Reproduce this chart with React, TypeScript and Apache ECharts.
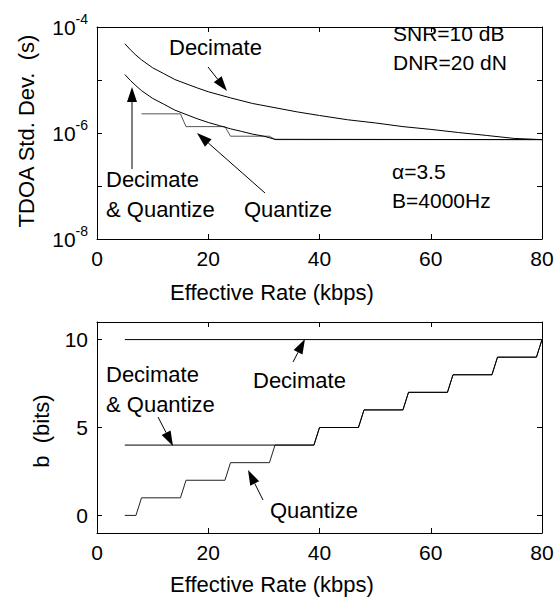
import React, { useEffect, useRef } from 'react';
import * as echarts from 'echarts';

// ---------- data ----------
const rateTicks = [0, 20, 40, 60, 80];

// Top panel: TDOA std. dev. (s) vs effective rate (kbps)
const decimateRate = [5, 6, 7, 8, 10, 12, 14, 16, 18, 20, 24, 28, 32, 36, 40, 45, 50, 55, 60, 65, 70, 75, 80];
const decimateStd = [4.84e-5, 3.72e-5, 2.95e-5, 2.4e-5, 1.7e-5, 1.32e-5, 1.02e-5, 8.5e-6, 7.1e-6, 6.0e-6, 4.6e-6, 3.6e-6, 3.0e-6, 2.5e-6, 2.14e-6, 1.78e-6, 1.55e-6, 1.32e-6, 1.17e-6, 1.02e-6, 9.0e-7, 7.9e-7, 7.5e-7];

const dqRate = [5, 6, 7, 8, 10, 12, 14, 16, 18, 20, 22, 24, 26, 28, 30, 32, 80];
const dqStd = [1.27e-5, 9.8e-6, 7.8e-6, 6.3e-6, 4.5e-6, 3.5e-6, 2.7e-6, 2.24e-6, 1.86e-6, 1.58e-6, 1.38e-6, 1.2e-6, 1.07e-6, 9.5e-7, 8.7e-7, 7.6e-7, 7.5e-7];

const quantRate = [8, 15, 16, 23, 24, 31, 32, 80];
const quantStd = [2.3e-6, 2.3e-6, 1.32e-6, 1.32e-6, 8.7e-7, 8.7e-7, 7.5e-7, 7.5e-7];

// Bottom panel: b (bits) vs effective rate (kbps)
const bitsDecRate = [5, 80];
const bitsDec = [10, 10];

const bitsDqRate = [5, 39, 40, 47, 48, 55, 56, 63, 64, 71, 72, 79, 80];
const bitsDq = [4, 4, 5, 5, 6, 6, 7, 7, 8, 8, 9, 9, 10];

const bitsQuantRate = [5, 7, 8, 15, 16, 23, 24, 31, 32, 39, 40, 47, 48, 55, 56, 63, 64, 71, 72, 79, 80];
const bitsQuant = [0, 0, 1, 1, 2, 2, 3, 3, 4, 4, 5, 5, 6, 6, 7, 7, 8, 8, 9, 9, 10];

const bitsTicks = [0, 5, 10];

// ---------- styling ----------
const FONT = "'Liberation Sans', Arial, Helvetica, sans-serif";
const FS = 21;
const FS_NOTE = 22;

const zip = (xs: number[], ys: number[]) => xs.map((x, i) => [x, ys[i]]);

function arrow(x1: number, y1: number, x2: number, y2: number) {
  const dx = x2 - x1;
  const dy = y2 - y1;
  const len = Math.sqrt(dx * dx + dy * dy);
  const ux = dx / len;
  const uy = dy / len;
  const hl = 15;
  const hw = 5;
  const bx = x2 - ux * hl;
  const by = y2 - uy * hl;
  return [
    {
      type: 'line',
      shape: { x1, y1, x2: bx, y2: by },
      style: { stroke: '#000', lineWidth: 1 },
      silent: true,
    },
    {
      type: 'polygon',
      shape: {
        points: [
          [x2, y2],
          [bx - uy * hw, by + ux * hw],
          [bx + uy * hw, by - ux * hw],
        ],
      },
      style: { fill: '#000' },
      silent: true,
    },
  ];
}

function label(text: string, x: number, y: number, extra: any = {}) {
  return {
    type: 'text',
    x,
    y,
    silent: true,
    style: {
      text,
      fill: '#000',
      fontSize: FS_NOTE,
      fontFamily: FONT,
      verticalAlign: 'middle',
      align: 'left',
      ...extra,
    },
  };
}

const baseAxisLine = { show: true, onZero: false, lineStyle: { color: '#000', width: 1 } };
const baseTick = { show: true, inside: true, length: 5, lineStyle: { color: '#000', width: 1 } };
const tickLabel = { color: '#000', fontSize: FS, fontFamily: FONT, margin: 9 };

function xAxes(gridIndex: number) {
  return [
    {
      gridIndex,
      type: 'value',
      min: rateTicks[0],
      max: rateTicks[rateTicks.length - 1],
      interval: 20,
      position: 'bottom',
      axisLine: baseAxisLine,
      axisTick: baseTick,
      axisLabel: tickLabel,
      splitLine: { show: false },
    },
    {
      gridIndex,
      type: 'value',
      min: rateTicks[0],
      max: rateTicks[rateTicks.length - 1],
      interval: 20,
      position: 'top',
      axisLine: baseAxisLine,
      axisTick: baseTick,
      axisLabel: { show: false },
      splitLine: { show: false },
    },
  ];
}

export default function App() {
  const ref = useRef<HTMLDivElement>(null);

  useEffect(() => {
    if (!ref.current) return;
    const chart = echarts.init(ref.current, undefined, { renderer: 'svg' });

    const logLabel = {
      ...tickLabel,
      formatter: (v: number) => {
        const e = Math.round(Math.log10(v));
        return e % 2 === 0 ? `{b|10}{s|${e}}` : '';
      },
      rich: {
        b: { fontSize: FS, fontFamily: FONT, color: '#000' },
        s: { fontSize: 14, fontFamily: FONT, color: '#000', padding: [0, 0, 17, 0] },
      },
    };

    const option: any = {
      animation: false,
      backgroundColor: '#fff',
      grid: [
        { left: 97, top: 27, width: 445, height: 212, containLabel: false },
        { left: 97, top: 322, width: 445, height: 211, containLabel: false },
      ],
      xAxis: [...xAxes(0), ...xAxes(1)],
      yAxis: [
        {
          gridIndex: 0,
          type: 'log',
          logBase: 10,
          min: 1e-8,
          max: 1e-4,
          position: 'left',
          axisLine: baseAxisLine,
          axisTick: baseTick,
          axisLabel: logLabel,
          splitLine: { show: false },
          minorTick: { show: false },
        },
        {
          gridIndex: 0,
          type: 'log',
          logBase: 10,
          min: 1e-8,
          max: 1e-4,
          position: 'right',
          axisLine: baseAxisLine,
          axisTick: baseTick,
          axisLabel: { show: false },
          splitLine: { show: false },
        },
        {
          gridIndex: 1,
          type: 'value',
          min: -1,
          max: 11,
          position: 'left',
          axisLine: baseAxisLine,
          axisTick: { ...baseTick, customValues: bitsTicks },
          axisLabel: { ...tickLabel, customValues: bitsTicks },
          splitLine: { show: false },
        },
        {
          gridIndex: 1,
          type: 'value',
          min: -1,
          max: 11,
          position: 'right',
          axisLine: baseAxisLine,
          axisTick: { ...baseTick, customValues: bitsTicks },
          axisLabel: { show: false, customValues: bitsTicks },
          splitLine: { show: false },
        },
      ],
      series: [
        {
          name: 'Decimate',
          type: 'line',
          xAxisIndex: 0,
          yAxisIndex: 0,
          data: zip(decimateRate, decimateStd),
          showSymbol: false,
          symbol: 'none',
          lineStyle: { color: '#000', width: 1 },
          z: 3,
        },
        {
          name: 'Quantize',
          type: 'line',
          xAxisIndex: 0,
          yAxisIndex: 0,
          data: zip(quantRate, quantStd),
          showSymbol: false,
          symbol: 'none',
          lineStyle: { color: '#555', width: 1 },
          z: 2,
        },
        {
          name: 'Decimate & Quantize',
          type: 'line',
          xAxisIndex: 0,
          yAxisIndex: 0,
          data: zip(dqRate, dqStd),
          showSymbol: false,
          symbol: 'none',
          lineStyle: { color: '#000', width: 1 },
          z: 3,
        },
        {
          name: 'Decimate bits',
          type: 'line',
          xAxisIndex: 2,
          yAxisIndex: 2,
          data: zip(bitsDecRate, bitsDec),
          showSymbol: false,
          symbol: 'none',
          lineStyle: { color: '#000', width: 1 },
        },
        {
          name: 'Quantize bits',
          type: 'line',
          xAxisIndex: 2,
          yAxisIndex: 2,
          data: zip(bitsQuantRate, bitsQuant),
          showSymbol: false,
          symbol: 'none',
          lineStyle: { color: '#222', width: 1 },
        },
        {
          name: 'Decimate & Quantize bits',
          type: 'line',
          xAxisIndex: 2,
          yAxisIndex: 2,
          data: zip(bitsDqRate, bitsDq),
          showSymbol: false,
          symbol: 'none',
          lineStyle: { color: '#000', width: 1 },
        },
      ],
      graphic: [
        // axis titles
        label('Effective Rate (kbps)', 272, 292, { align: 'center' }),
        label('Effective Rate (kbps)', 272, 584, { align: 'center' }),
        {
          type: 'text',
          x: 26,
          y: 131,
          rotation: Math.PI / 2,
          silent: true,
          style: {
            text: 'TDOA Std. Dev.  (s)',
            fill: '#000',
            fontSize: FS_NOTE,
            fontFamily: FONT,
            align: 'center',
            verticalAlign: 'middle',
          },
        },
        {
          type: 'text',
          x: 41,
          y: 431,
          rotation: Math.PI / 2,
          silent: true,
          style: {
            text: 'b  (bits)',
            fill: '#000',
            fontSize: FS_NOTE,
            fontFamily: FONT,
            align: 'center',
            verticalAlign: 'middle',
          },
        },
        // top panel annotations
        label('Decimate', 169, 47),
        label('SNR=10 dB', 393, 33, { fontSize: FS }),
        label('DNR=20 dN', 393, 62, { fontSize: FS }),
        label('α=3.5', 392, 171, { fontSize: FS }),
        label('B=4000Hz', 392, 200, { fontSize: FS }),
        label('Decimate', 106, 179),
        label('& Quantize', 106, 209),
        label('Quantize', 244, 209),
        ...arrow(208, 67, 227, 91),
        ...arrow(132, 169, 132, 87),
        ...arrow(265, 193, 197, 133),
        // bottom panel annotations
        label('Decimate', 106, 374),
        label('& Quantize', 106, 404),
        label('Decimate', 253, 380),
        label('Quantize', 270, 510),
        ...arrow(293, 362, 305, 339),
        ...arrow(158, 417, 173, 446),
        ...arrow(263, 500, 248, 470),
      ],
    };

    chart.setOption(option);
    return () => chart.dispose();
  }, []);

  return (
    <div
      ref={ref}
      style={{ position: 'absolute', left: 0, top: 0, width: 557, height: 600, background: '#fff' }}
    />
  );
}
